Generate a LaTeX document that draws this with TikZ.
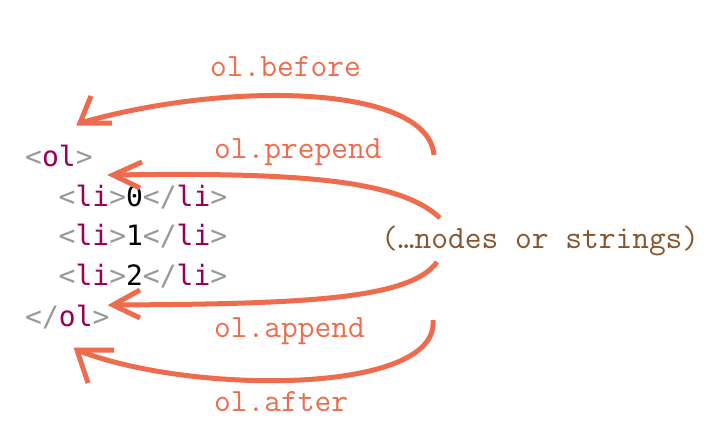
\documentclass[tikz,border=0pt]{standalone}
\usepackage{fontspec}
\newfontfamily\codefont{DejaVu Sans Mono}
\newfontfamily\labfont{Latin Modern Mono}
\definecolor{arr}{RGB}{238,108,77}
\definecolor{tagc}{RGB}{153,0,85}
\definecolor{brk}{RGB}{153,153,153}
\definecolor{brn}{RGB}{135,84,44}
\newcommand{\mylt}{\textcolor{brk}{<}}
\newcommand{\mygt}{\textcolor{brk}{>}}
\newcommand{\mysl}{\textcolor{brk}{/}}
\newcommand{\mytg}[1]{\textcolor{tagc}{#1}}
\begin{document}
\begin{tikzpicture}[x=1pt,y=-1pt,
  code/.style={anchor=base west,inner sep=0pt,font=\codefont\fontsize{28}{30}\selectfont},
  lab/.style={anchor=base west,inner sep=0pt,text=arr,font=\labfont\fontsize{32.5}{34}\selectfont},
  arrow/.style={draw=arr,line width=5pt,line cap=butt},
  head/.style={draw=arr,line width=5pt,line cap=butt,line join=miter}]
\useasboundingbox (0,0) rectangle (722,436);
% code
\node[code] (ol1) at (25,166) {\mylt\mytg{ol}\mygt};
\node[code] (li0) at (58.5,206) {\mylt\mytg{li}\mygt0\mylt\mysl\mytg{li}\mygt};
\node[code] (li1) at (58.5,245.5) {\mylt\mytg{li}\mygt1\mylt\mysl\mytg{li}\mygt};
\node[code] (li2) at (58.5,285.5) {\mylt\mytg{li}\mygt2\mylt\mysl\mytg{li}\mygt};
\node[code] (ol2) at (25,326) {\mylt\mysl\mytg{ol}\mygt};
% labels
\node[lab] (before) at (210,77) {ol.before};
\node[lab] (prepend) at (214,158) {ol.prepend};
\node[lab] (append) at (214,337) {ol.append};
\node[lab] (after) at (214,411) {ol.after};
\node[lab,text=brn] (nodes) at (381,248) {(…nodes or strings)};
% coordinates
\coordinate (bs) at (434,155); \coordinate (bt) at (80,123);
\coordinate (ba) at (91,96); \coordinate (bb) at (112,123);
\coordinate (ps) at (440,218); \coordinate (pt) at (113,175);
\coordinate (pa) at (142,162); \coordinate (pb) at (140,188);
\coordinate (as) at (437,262); \coordinate (at) at (113,305);
\coordinate (aa) at (140,290); \coordinate (ab) at (140,318);
\coordinate (fs) at (433,320); \coordinate (ft) at (77,350);
\coordinate (fa) at (114,350); \coordinate (fb) at (88,383);
% arrows
\draw[arrow] (bs) .. controls (428,85) and (230,80) .. (bt);
\draw[head] (ba) -- (bt) -- (bb);
\draw[arrow] (ps) .. controls (400,180) and (300,172) .. (pt);
\draw[head] (pa) -- (pt) -- (pb);
\draw[arrow] (as) .. controls (410,300) and (300,304) .. (at);
\draw[head] (aa) -- (at) -- (ab);
\draw[arrow] (fs) .. controls (440,395) and (190,395) .. (ft);
\draw[head] (fa) -- (ft) -- (fb);
\end{tikzpicture}
\end{document}
